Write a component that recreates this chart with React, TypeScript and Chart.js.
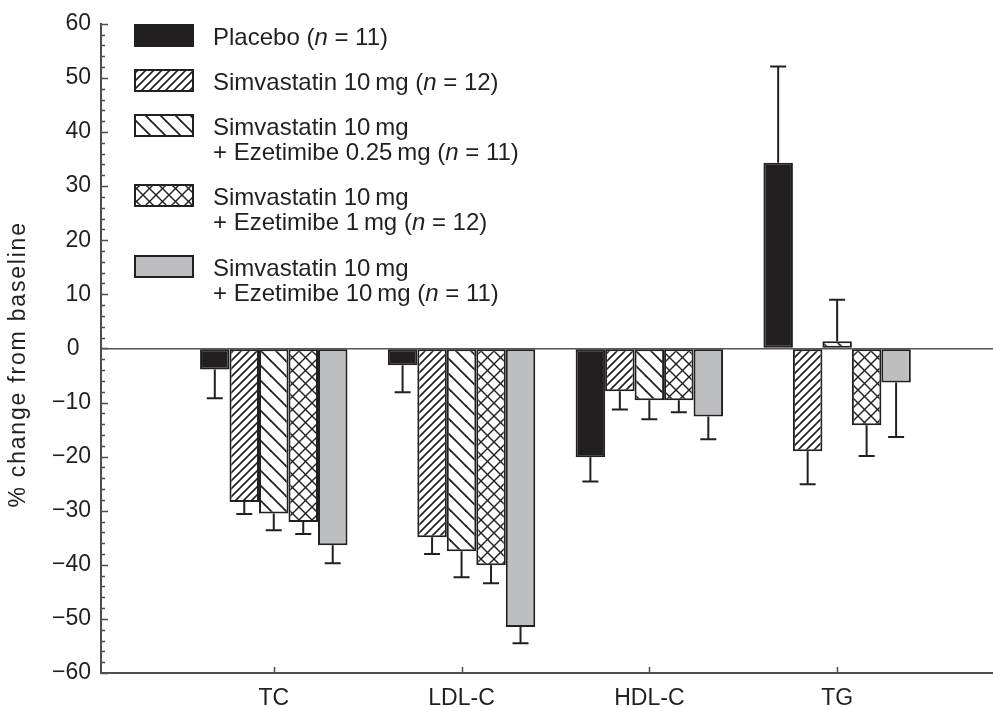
import React, { useEffect, useRef } from 'react';
import { Chart, registerables } from 'chart.js';

Chart.register(...registerables);

const categories = ['TC', 'LDL-C', 'HDL-C', 'TG'];

const seriesLabels: string[][] = [
  ['Placebo (n = 11)'],
  ['Simvastatin 10\u2009mg (n = 12)'],
  ['Simvastatin 10\u2009mg', '+ Ezetimibe 0.25\u2009mg (n = 11)'],
  ['Simvastatin 10\u2009mg', '+ Ezetimibe 1\u2009mg (n = 12)'],
  ['Simvastatin 10\u2009mg', '+ Ezetimibe 10\u2009mg (n = 11)'],
];

const yTitle = '% change from baseline';

const placebo = [-3.9, -3.1, -20.1, 34.3];
const simva10 = [-28.4, -34.9, -7.9, -19.0];
const ezet025 = [-30.5, -37.5, -9.6, 1.3];
const ezet1 = [-32.1, -40.1, -9.6, -14.2];
const ezet10 = [-36.4, -51.5, -12.6, -6.3];

const placeboErr = [5.3, 5.0, 4.5, 17.8];
const simva10Err = [2.2, 3.1, 3.4, 6.1];
const ezet025Err = [3.1, 4.8, 3.5, 7.7];
const ezet1Err = [2.2, 3.3, 2.2, 5.7];
const ezet10Err = [3.3, 3.0, 4.2, 10.1];

const yMin = -60;
const yMax = 60;
const yStep = 10;
const yMinorStep = 2;

const INK = '#231f20';
const GRAY = '#bcbec0';
const AXIS = '#4d4d4d';
const FONT = '"Liberation Sans", Arial, Helvetica, sans-serif';
const FS = 23;
const LEGEND_FS = 24;

function makeHatch(kind: 'fwd' | 'back' | 'cross', size: number, lw: number): CanvasPattern | string {
  const c = document.createElement('canvas');
  c.width = size;
  c.height = size;
  const g = c.getContext('2d');
  if (!g) return '#fff';
  g.fillStyle = '#fff';
  g.fillRect(0, 0, size, size);
  g.strokeStyle = INK;
  g.lineWidth = lw;
  g.lineCap = 'square';
  for (let k = -1; k <= 1; k++) {
    if (kind === 'fwd' || kind === 'cross') {
      g.beginPath();
      g.moveTo(k * size, size);
      g.lineTo(k * size + size, 0);
      g.stroke();
    }
    if (kind === 'back' || kind === 'cross') {
      g.beginPath();
      g.moveTo(k * size, 0);
      g.lineTo(k * size + size, size);
      g.stroke();
    }
  }
  const p = g.createPattern(c, 'repeat');
  return p || '#fff';
}

function drawRichLine(ctx: CanvasRenderingContext2D, text: string, x: number, y: number) {
  const idx = text.indexOf('(n ');
  const normal = `${LEGEND_FS}px ${FONT}`;
  const italic = `italic ${LEGEND_FS}px ${FONT}`;
  if (idx < 0) {
    ctx.font = normal;
    ctx.fillText(text, x, y);
    return;
  }
  const parts: [string, string][] = [
    [text.slice(0, idx + 1), normal],
    ['n', italic],
    [text.slice(idx + 2), normal],
  ];
  let cx = x;
  for (const [t, f] of parts) {
    ctx.font = f;
    ctx.fillText(t, cx, y);
    cx += ctx.measureText(t).width;
  }
}

export default function App() {
  const ref = useRef<HTMLCanvasElement | null>(null);

  useEffect(() => {
    const canvas = ref.current;
    if (!canvas) return;

    const fills: (CanvasPattern | string)[] = [
      INK,
      makeHatch('fwd', 8, 1.6),
      makeHatch('back', 15, 1.8),
      makeHatch('cross', 13, 1.4),
      GRAY,
    ];
    const values = [placebo, simva10, ezet025, ezet1, ezet10];
    const errors = [placeboErr, simva10Err, ezet025Err, ezet1Err, ezet10Err];

    const datasets = values.map((vals, d) => ({
      label: seriesLabels[d].join(' '),
      data: vals.map((v, i) => ({ x: i + 1, y: v })),
      backgroundColor: fills[d],
      borderColor: INK,
      borderWidth: 2,
      borderSkipped: false as const,
      categoryPercentage: 0.785,
      barPercentage: 1.0,
    }));

    const errorBars = {
      id: 'errorBars',
      afterDatasetsDraw(chart: any) {
        const ctx = chart.ctx as CanvasRenderingContext2D;
        const ys = chart.scales.y;
        ctx.save();
        ctx.strokeStyle = INK;
        ctx.lineWidth = 2;
        values.forEach((vals, d) => {
          const meta = chart.getDatasetMeta(d);
          meta.data.forEach((el: any, i: number) => {
            const v = vals[i];
            const e = errors[d][i];
            const end = v >= 0 ? v + e : v - e;
            const yEnd = ys.getPixelForValue(end);
            ctx.beginPath();
            ctx.moveTo(el.x, el.y);
            ctx.lineTo(el.x, yEnd);
            ctx.moveTo(el.x - 8, yEnd);
            ctx.lineTo(el.x + 8, yEnd);
            ctx.stroke();
          });
        });
        ctx.restore();
      },
    };

    const axisDecor = {
      id: 'axisDecor',
      afterDraw(chart: any) {
        const ctx = chart.ctx as CanvasRenderingContext2D;
        const ys = chart.scales.y;
        const xs = chart.scales.x;
        const { left, bottom, top } = chart.chartArea;
        ctx.save();
        ctx.strokeStyle = AXIS;
        ctx.lineWidth = 1.5;
        ctx.beginPath();
        for (let v = yMin; v <= yMax; v += yMinorStep) {
          const y = Math.round(ys.getPixelForValue(v)) + 0.5;
          const len = v % yStep === 0 ? 7 : 4;
          ctx.moveTo(left, y);
          ctx.lineTo(left + len, y);
        }
        categories.forEach((_, i) => {
          const x = Math.round(xs.getPixelForValue(i + 1)) + 0.5;
          ctx.moveTo(x, bottom);
          ctx.lineTo(x, bottom - 6);
        });
        ctx.stroke();

        // y-axis title
        ctx.translate(19, (top + bottom) / 2 + 16);
        ctx.rotate(-Math.PI / 2);
        ctx.fillStyle = INK;
        ctx.font = `${FS}px ${FONT}`;
        (ctx as any).letterSpacing = '1.8px';
        ctx.textAlign = 'center';
        ctx.textBaseline = 'middle';
        ctx.fillText(yTitle, 0, 0);
        ctx.restore();
      },
    };

    const legendRows = [37, 82, 127, 197, 268];
    const legendPlugin = {
      id: 'customLegend',
      afterDraw(chart: any) {
        const ctx = chart.ctx as CanvasRenderingContext2D;
        ctx.save();
        seriesLabels.forEach((lines, d) => {
          const cy = legendRows[d];
          const sx = 135;
          const sy = cy - 12;
          const sw = 58;
          const sh = 21;
          ctx.fillStyle = fills[d] as any;
          ctx.fillRect(sx, sy, sw, sh);
          ctx.strokeStyle = INK;
          ctx.lineWidth = 2;
          ctx.strokeRect(sx, sy, sw, sh);
          ctx.fillStyle = INK;
          ctx.textBaseline = 'middle';
          ctx.textAlign = 'left';
          lines.forEach((line, k) => {
            drawRichLine(ctx, line, 213, cy + 1 + k * 25);
          });
        });
        ctx.restore();
      },
    };

    const chart = new Chart(canvas, {
      type: 'bar',
      data: { datasets: datasets as any },
      plugins: [errorBars, axisDecor, legendPlugin],
      options: {
        animation: false,
        responsive: false,
        maintainAspectRatio: false,
        layout: { padding: { top: 23, right: 0, bottom: 0, left: 0 } },
        plugins: {
          legend: { display: false },
          tooltip: { enabled: false },
        },
        scales: {
          x: {
            type: 'linear',
            min: 0.08,
            max: 4.83,
            offset: false,
            afterFit: (s: any) => {
              s.height = 35;
            },
            afterBuildTicks: (s: any) => {
              s.ticks = categories.map((_, i) => ({ value: i + 1 }));
            },
            grid: { display: false, drawTicks: false },
            border: { display: true, color: AXIS, width: 2 },
            ticks: {
              autoSkip: false,
              maxRotation: 0,
              padding: 12,
              color: INK,
              font: { family: FONT, size: FS },
              callback: (v: any) => categories[Number(v) - 1] ?? '',
            },
          },
          y: {
            type: 'linear',
            min: yMin,
            max: yMax,
            afterFit: (s: any) => {
              s.width = 101;
            },
            grid: {
              drawTicks: false,
              color: (c: any) => (c.tick && c.tick.value === 0 ? '#555555' : 'rgba(0,0,0,0)'),
              lineWidth: 1.5,
            },
            border: { display: true, color: AXIS, width: 2 },
            ticks: {
              stepSize: yStep,
              padding: 10,
              color: INK,
              font: { family: FONT, size: FS },
              callback: (v: any) =>
                Number(v) < 0 ? '\u2212' + Math.abs(Number(v)) : Number(v) === 0 ? '0\u2002' : String(v),
            },
            title: { display: false },
          },
        },
      },
    });

    return () => {
      chart.destroy();
    };
  }, []);

  return (
    <div style={{ position: 'fixed', left: 0, top: 0, width: 993, height: 708, background: '#fff' }}>
      <canvas ref={ref} width={993} height={708} style={{ display: 'block', width: 993, height: 708 }} />
    </div>
  );
}
